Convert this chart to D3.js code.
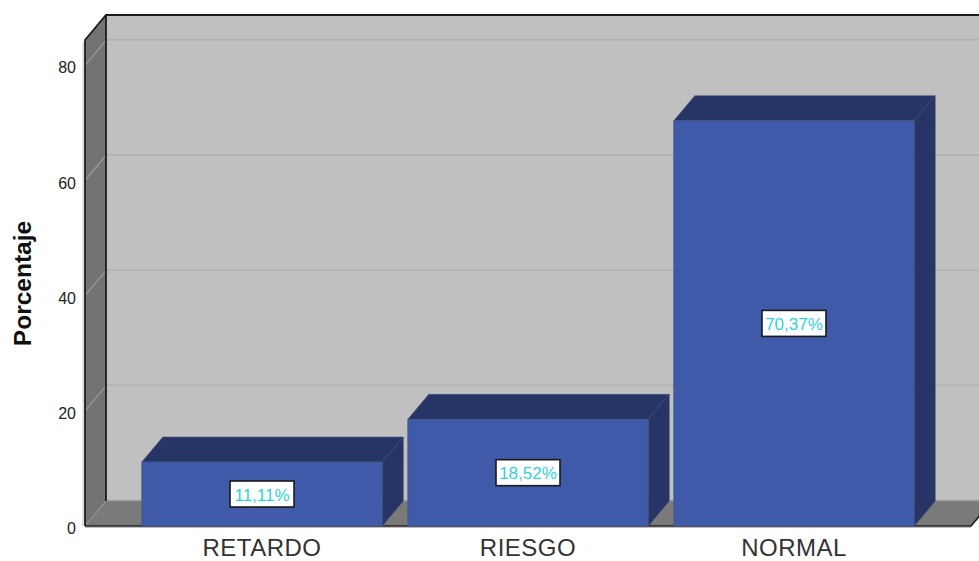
<!DOCTYPE html>
<html><head><meta charset="utf-8">
<style>html,body{margin:0;padding:0;background:#fff;overflow:hidden}svg{display:block}text{font-family:"Liberation Sans",Arial,sans-serif}</style>
<script src="https://cdn.jsdelivr.net/npm/d3@7"></script>
</head><body>
<script>
const categories = ["RETARDO","RIESGO","NORMAL"];
const values = [11.11,18.52,70.37];
const valueLabels = ["11,11%","18,52%","70,37%"];
const yTicks = [0,20,40,60,80];

const W=979,H=561,dx=21,dy=25;
const svg=d3.select("body").append("svg").attr("width",W).attr("height",H);
const y=d3.scaleLinear().domain([0,84.4]).range([526,40]);
const x=d3.scaleBand().domain(categories).range([85,971]).paddingInner(0.096).paddingOuter(0.2135);
const x0=x.range()[0],x1=x.range()[1],yb=y(0),yt=y.range()[1];
const poly=pts=>"M"+pts.map(p=>p.join(",")).join("L")+"Z";

// back wall
svg.append("path").attr("d",poly([[x0+dx,yb-dy],[x1+dx,yb-dy],[x1+dx,yt-dy],[x0+dx,yt-dy]])).attr("fill","#c0c0c0");
// left wall
svg.append("path").attr("d",poly([[x0,yb],[x0+dx,yb-dy],[x0+dx,yt-dy],[x0,yt]])).attr("fill","#737373");
// floor
svg.append("path").attr("d",poly([[x0,yb],[x0+dx,yb-dy],[x1+dx,yb-dy],[x1,yb]])).attr("fill","#7a7a7a");
// grid
const gridTicks=yTicks.filter(d=>d>0);
svg.selectAll(".g").data(gridTicks).join("line").attr("x1",x0+dx).attr("x2",x1+dx)
 .attr("y1",d=>y(d)-dy-.5).attr("y2",d=>y(d)-dy-.5).attr("stroke","#b0b0b0").attr("stroke-width",1.5);
svg.selectAll(".w").data(gridTicks).join("line").attr("x1",x0).attr("x2",x0+dx)
 .attr("y1",d=>y(d)).attr("y2",d=>y(d)-dy).attr("stroke","#9a9a9a").attr("stroke-width",1.2);
svg.append("line").attr("x1",x0).attr("x2",x0+dx).attr("y1",yb).attr("y2",yb-dy).attr("stroke","#9a9a9a").attr("stroke-width",1);
svg.append("line").attr("x1",x0+dx).attr("x2",x1+dx).attr("y1",yb-dy-.5).attr("y2",yb-dy-.5).attr("stroke","#a0a0a0").attr("stroke-width",1.5);
// frame
const frame="#1c1c1c";
svg.append("line").attr("x1",x0-2).attr("x2",x0-2).attr("y1",yt+2).attr("y2",yb).attr("stroke","#c4c4c4").attr("stroke-width",1);
svg.append("path").attr("fill","none").attr("stroke",frame).attr("stroke-width",1.8)
 .attr("d",`M${x0},${yb}L${x0},${yt}L${x0+dx},${yt-dy}L${x1+dx},${yt-dy}M${x0+dx},${yt-dy}L${x0+dx},${yb-dy}`);
svg.append("path").attr("fill","none").attr("stroke",frame).attr("stroke-width",1.6)
 .attr("d",`M${x0},${yb}L${x1},${yb}L${x1+dx},${yb-dy}`);
svg.append("line").attr("x1",x0).attr("x2",x1).attr("y1",yb+1.5).attr("y2",yb+1.5).attr("stroke","#bdbdbd").attr("stroke-width",1);

// bars
const bars=svg.selectAll(".bar").data(categories.map((c,i)=>({c,v:values[i],l:valueLabels[i]}))).join("g");
const edge="#3a4568";
bars.append("path").attr("fill","#263566").attr("stroke","#4a5478").attr("stroke-width",.6).attr("d",d=>{
 const a=x(d.c),b=a+x.bandwidth(),t=y(d.v);
 return poly([[a,t],[a+dx,t-dy],[b+dx,t-dy],[b,t]]);});
bars.append("path").attr("fill","#263566").attr("stroke",edge).attr("stroke-width",.6).attr("d",d=>{
 const b=x(d.c)+x.bandwidth(),t=y(d.v);
 return poly([[b,t],[b+dx,t-dy],[b+dx,yb-dy],[b,yb]]);});
bars.append("rect").attr("x",d=>x(d.c)).attr("y",d=>y(d.v)).attr("width",x.bandwidth()).attr("height",d=>yb-y(d.v))
 .attr("fill","#3e5aa8").attr("stroke","#46557f").attr("stroke-width",.6);
// value labels
const cx=d=>x(d.c)+x.bandwidth()/2, cy=d=>(y(d.v)+yb)/2;
bars.append("rect").attr("x",d=>cx(d)-32).attr("y",d=>cy(d)-13).attr("width",64).attr("height",26)
 .attr("fill","#fff").attr("stroke","#1a1a1a").attr("stroke-width",1.6);
bars.append("text").attr("x",cx).attr("y",d=>cy(d)+6.5).attr("text-anchor","middle")
 .attr("font-size",17).attr("fill","#2ed3da").text(d=>d.l);

// y tick labels
svg.selectAll(".yl").data(yTicks).join("text").attr("x",76).attr("y",d=>y(d)+8).attr("text-anchor","end")
 .attr("font-size",16).attr("fill","#222").text(d=>d);
// category labels
svg.selectAll(".xl").data(categories).join("text").attr("x",d=>x(d)+x.bandwidth()/2).attr("y",555.8).attr("text-anchor","middle")
 .attr("font-size",24).attr("letter-spacing",0.5).attr("fill","#333").text(d=>d);
// axis title
svg.append("text").attr("transform","translate(31,283.5) rotate(-90)").attr("text-anchor","middle")
 .attr("font-size",24.5).attr("font-weight","bold").attr("fill","#111").text("Porcentaje");
</script>
</body></html>
